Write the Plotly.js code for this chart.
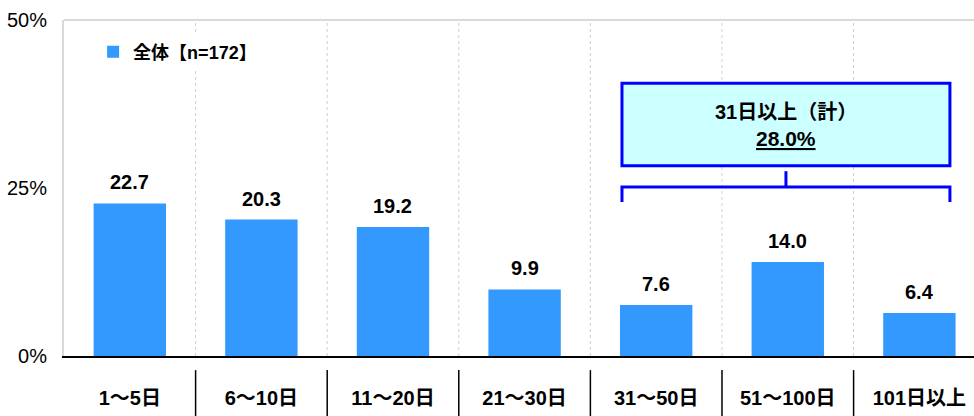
<!DOCTYPE html>
<html><head><meta charset="utf-8">
<script src="https://cdn.plot.ly/plotly-3.0.1.min.js"></script>
<style>body{margin:0;background:#fff}#c{width:974px;height:416px}</style>
</head><body><div id="c"></div>
<script>
const categories = ["1～5日","6～10日","11～20日","21～30日","31～50日","51～100日","101日以上"];
const values = [22.7, 20.3, 19.2, 9.9, 7.6, 14.0, 6.4];
const valueLabels = ["22.7","20.3","19.2","9.9","7.6","14.0","6.4"];
const seriesName = "全体【n=172】";
const yTickVals = [0, 25, 50];
const yTickText = ["0%","25%","50%"];
const boxTitle = "31日以上（計）";
const boxValue = "28.0%";
const groupStart = 4, groupEnd = 6;

const FONT = '"Liberation Sans", "Noto Sans CJK JP", Arial, sans-serif';
const BW = 0.55;
const shapes = [];
// top border
shapes.push({type:'line', xref:'paper', yref:'paper', x0:0, x1:1, y0:1, y1:1, line:{color:'#d9d9d9', width:2}, layer:'below'});
// vertical dotted gridlines at category boundaries
for (let i = 0; i < categories.length - 1; i++) {
  shapes.push({type:'line', xref:'x', yref:'paper', x0:i+0.5, x1:i+0.5, y0:0, y1:1, line:{color:'#cfcfcf', width:1, dash:'dot'}, layer:'below'});
}
// category separators below axis
for (let i = 0; i < categories.length; i++) {
  shapes.push({type:'line', xref:'x', yref:'paper', x0:i+0.5, x1:i+0.5, y0:-0.042, y1:-0.18, line:{color:'#000', width:1.5}});
}
// box and bracket
const bx0 = groupStart - BW/2 + 0.015, bx1 = groupEnd + BW/2 - 0.043, bmid = (bx0 + bx1) / 2;
shapes.push({type:'rect', xref:'x', yref:'y', x0:bx0, x1:bx1, y0:28.3, y1:40.6, fillcolor:'#CCFFFF', line:{color:'#0000FF', width:3}});
shapes.push({type:'path', xref:'x', yref:'y', path:`M ${bx0} 22.9 L ${bx0} 25.15 L ${bx1} 25.15 L ${bx1} 22.9`, line:{color:'#0000FF', width:3}});
shapes.push({type:'line', xref:'x', yref:'y', x0:bmid, x1:bmid, y0:25.15, y1:27.5, line:{color:'#0000FF', width:3}});

const annotations = values.map((v,i)=>({x:i, y:v, text:valueLabels[i], showarrow:false, yanchor:'bottom', yshift:8, font:{family:FONT, size:20, color:'#000', weight:'bold'}}));
annotations.push({x:bmid, y:36.3, xref:'x', yref:'y', text:boxTitle, showarrow:false, font:{family:FONT, size:20, color:'#000', weight:'bold'}});
annotations.push({x:bmid, y:32.4, xref:'x', yref:'y', text:'<u>'+boxValue+'</u>', showarrow:false, font:{family:FONT, size:21, color:'#000', weight:'bold'}});

Plotly.newPlot('c', [{
  type:'bar', x:categories.map((c,i)=>i), y:values, name:seriesName, width:BW,
  marker:{color:'#3399FF'}, showlegend:true
}], {
  width:974, height:416,
  margin:{l:64, r:0, t:20, b:60},
  paper_bgcolor:'#fff', plot_bgcolor:'#fff',
  font:{family:FONT, color:'#000'},
  showlegend:true,
  legend:{x:0.032, y:0.96, xanchor:'left', yanchor:'top', bgcolor:'#fff', font:{family:FONT, size:18, weight:'bold'}, itemwidth:30},
  xaxis:{range:[-0.5, 6.415], tickvals:categories.map((c,i)=>i), ticktext:categories, showline:true, linecolor:'#000', linewidth:1.5,
    showgrid:false, zeroline:false, ticks:'', ticklabelstandoff:23, tickfont:{family:FONT, size:20, weight:'bold'}},
  yaxis:{range:[0,50], tickvals:yTickVals, ticktext:yTickText, showgrid:false, zeroline:false, showline:true, linecolor:'#d9d9d9', linewidth:2,
    ticks:'', ticklabelstandoff:11, tickfont:{family:FONT, size:20}},
  shapes: shapes,
  annotations: annotations
}, {staticPlot:true});
</script></body></html>
